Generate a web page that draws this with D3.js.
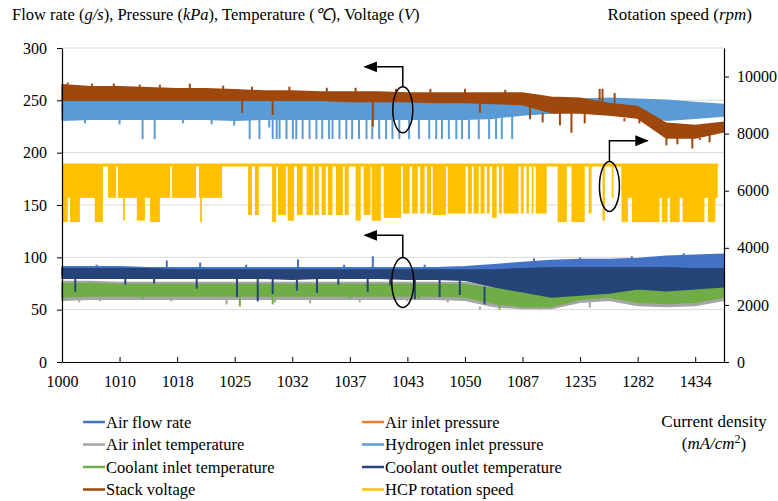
<!DOCTYPE html>
<html>
<head>
<meta charset="utf-8">
<script src="https://cdn.jsdelivr.net/npm/d3@7"></script>
<style>
  body { margin: 0; background: #fff; }
  svg text { font-family: "Liberation Serif", "Times New Roman", serif; fill: #000; }
</style>
</head>
<body>
<div id="chart"></div>
<script>

// x is measured in label intervals: tick i sits under xLabels[i]
var xLabels = ["1000", "1010", "1018", "1025", "1032", "1037", "1043", "1050", "1087", "1235", "1282", "1434"];
var sampleT = d3.range(0, 12, 0.5);   // band samples, every half interval

// left-axis series, upper / lower edge of the noisy trace
var voltHi = [265, 263, 263, 262, 261, 261, 260, 259, 259, 258, 258, 258, 257, 257, 257, 257, 257, 253, 252, 247, 244, 228, 226, 229];
var voltLo = [250, 250, 250, 250, 250, 250, 250, 250, 250, 250, 249, 249, 249, 248, 248, 247, 246, 238, 238, 236, 233, 214, 214, 220];
var h2Hi = [249, 249, 249, 249, 249, 249, 249, 249, 249, 249, 249, 249, 249, 249, 249, 249, 250, 250, 251, 252, 251, 250, 248, 246];
var h2Lo = [231, 232, 232, 232, 232, 232, 231, 232, 232, 232, 232, 232, 232, 232, 232, 233, 236, 238, 239, 240, 238, 231, 233, 235];
var airPHi = [244, 244, 244, 244, 244, 244, 244, 244, 244, 244, 244, 244, 244, 244, 244, 244, 245, 245, 246, 246, 245, 244, 243, 242];
var airPLo = [238, 238, 238, 238, 238, 238, 238, 238, 238, 238, 238, 238, 238, 238, 238, 238, 239, 240, 241, 241, 240, 238, 238, 238];
var flowHi = [91, 91, 91, 90, 90, 90, 90, 90, 90, 90, 90, 90, 90, 90, 91, 93, 95, 97, 98, 98, 99, 101, 102, 103];
var flowLo = [84, 84, 84, 84, 84, 84, 84, 84, 84, 84, 84, 84, 84, 84, 84, 85, 86, 87, 87, 88, 88, 88, 88, 89];
var outHi = [89, 89, 89, 89, 88, 88, 88, 88, 88, 88, 88, 88, 88, 88, 88, 88, 89, 90, 90, 90, 90, 90, 89, 89];
var outLo = [80, 80, 80, 80, 80, 80, 80, 80, 79, 80, 80, 80, 79, 79, 78, 72, 67, 62, 64, 66, 70, 68, 70, 72];
var inHi = [75, 75, 74, 74, 74, 74, 74, 74, 74, 74, 74, 74, 74, 74, 74, 70, 68, 68, 74, 75, 71, 70, 71, 76];
var inLo = [62, 63, 63, 63, 63, 63, 63, 63, 63, 63, 63, 63, 63, 63, 62, 56, 53, 53, 60, 62, 57, 56, 57, 62];
var airTHi = [77, 77, 76, 76, 76, 76, 76, 76, 76, 76, 76, 76, 76, 76, 76, 72, 70, 70, 76, 77, 73, 72, 73, 78];
var airTLo = [59, 60, 60, 60, 60, 60, 60, 60, 60, 60, 60, 60, 60, 60, 59, 53, 51, 51, 57, 59, 54, 53, 54, 59];

// single excursions [x, value]
var voltSpikes = [[0.10, 267], [0.52, 266], [0.90, 266], [1.35, 265], [1.70, 265], [2.22, 266], [2.80, 264], [3.30, 263], [3.95, 263], [4.60, 262],
  [5.10, 262], [5.80, 261], [6.40, 261], [7.00, 261], [7.70, 260], [3.13, 238], [3.66, 236], [5.40, 225], [7.26, 238], [8.13, 232], [8.35, 229],
  [8.65, 226], [8.85, 219], [9.08, 228], [9.34, 261], [9.39, 261], [9.60, 257], [9.77, 230], [10.03, 228], [10.50, 207], [10.69, 208],
  [10.95, 204], [11.08, 212], [11.25, 210]];
var h2Spikes = [[1.40, 213], [1.61, 213], [3.26, 213], [3.43, 213], [3.66, 213], [3.73, 213], [3.78, 213], [3.90, 213], [4.01, 213], [4.07, 213],
  [4.18, 213], [4.30, 213], [4.42, 213], [4.52, 213], [4.64, 213], [4.70, 213], [4.82, 213], [4.94, 213], [5.04, 213], [5.16, 213], [5.29, 213],
  [5.39, 213], [5.51, 213], [5.63, 213], [5.74, 213], [5.86, 213], [6.03, 213], [6.20, 213], [6.38, 213], [6.50, 213], [6.60, 213], [6.72, 213],
  [6.85, 213], [6.95, 213], [7.07, 213], [7.24, 213], [7.42, 213], [7.54, 213], [7.64, 213], [7.82, 213], [2.99, 226], [3.60, 224],
  [0.40, 228], [1.00, 227], [2.10, 228], [2.60, 227]];
var flowSpikes = [[0.60, 93], [1.82, 97], [2.40, 95], [3.20, 93], [4.10, 98], [4.90, 93], [5.40, 101], [6.30, 93], [8.20, 99], [9.00, 100],
  [9.90, 101], [10.80, 104]];
var outSpikes = [[0.23, 67], [2.34, 70], [3.04, 62], [3.40, 58], [3.66, 65], [4.08, 68], [4.43, 66], [5.31, 67], [6.13, 60], [6.56, 62],
  [6.91, 64], [7.34, 55], [1.10, 74], [1.60, 75], [4.80, 74], [5.70, 73]];
var inSpikes = [[3.09, 53], [3.66, 55], [7.60, 50], [1.40, 60], [5.00, 60], [6.20, 60]];
var airTSpikes = [[0.66, 58], [2.86, 55], [4.31, 56], [5.17, 57], [7.26, 50], [8.30, 50], [9.17, 52], [10.21, 54], [0.30, 57], [1.90, 58],
  [3.70, 57], [6.00, 58], [6.70, 57]];

// HCP rotation speed (right axis): top level plus drop blocks [x0, x1, lowest rpm]
var hcpTop = 6900;
var hcpEnd = 11.40;
var hcpDrops = [[0.00, 0.71, 5750], [0.80, 0.94, 5750], [0.97, 1.35, 5750], [1.39, 1.88, 5750], [1.91, 2.33, 5750], [2.38, 2.78, 5750],
  [0.00, 0.10, 4900], [0.14, 0.31, 4900], [0.57, 0.71, 4900], [1.06, 1.09, 4950],
  [1.30, 1.44, 4950], [1.53, 1.70, 4900], [2.40, 2.43, 4900], [3.23, 3.30, 5150], [3.35, 3.42, 5150], [3.65, 3.72, 4900], [3.75, 3.89, 5150],
  [3.92, 4.03, 4950], [4.08, 4.18, 5150], [4.25, 4.36, 5150], [4.39, 4.46, 5150], [4.51, 4.58, 5150], [4.62, 4.70, 5150], [4.76, 4.88, 5150],
  [4.91, 4.98, 5150], [5.10, 5.19, 4950], [5.24, 5.36, 5150], [5.38, 5.54, 4950], [5.59, 5.89, 5050], [5.92, 6.04, 5200], [6.08, 6.18, 5200],
  [6.22, 6.30, 5200], [6.34, 6.41, 5200], [6.44, 6.67, 5150], [6.70, 7.01, 5200], [7.05, 7.12, 5200], [7.15, 7.24, 5200], [7.27, 7.34, 5200],
  [7.38, 7.43, 5200], [7.47, 7.55, 5050], [7.59, 7.64, 5200], [7.67, 7.93, 5200], [7.97, 8.02, 5200], [8.07, 8.11, 5200], [8.16, 8.19, 5200],
  [8.23, 8.42, 5200], [8.61, 8.77, 4900], [8.85, 9.08, 4900], [9.15, 9.20, 5200], [9.39, 9.43, 4950], [9.55, 9.58, 5750], [9.72, 11.39, 5750],
  [9.72, 9.83, 4900], [9.90, 10.38, 4900], [10.42, 10.52, 4900], [10.56, 10.73, 4900], [10.78, 11.16, 4900], [11.22, 11.35, 4900]];

var leftTicks = [0, 50, 100, 150, 200, 250, 300];
var rightTicks = [0, 2000, 4000, 6000, 8000, 10000];

var W = 778, H = 501;
var plot = {left: 62, right: 724, top: 48, bottom: 362};
var serif = "'Liberation Serif', 'Times New Roman', serif";

var svg = d3.select("#chart").append("svg")
    .attr("width", W).attr("height", H)
    .attr("font-family", serif)
    .style("background", "#fff");

var x = d3.scaleLinear().domain([0, 11.5]).range([plot.left, plot.right]);
var yL = d3.scaleLinear().domain([0, 300]).range([plot.bottom, plot.top]);
var yR = d3.scaleLinear().domain([0, 11000]).range([plot.bottom, plot.top]);

// gridlines
svg.append("g").selectAll("line")
  .data(leftTicks.slice(1))
  .join("line")
    .attr("x1", plot.left).attr("x2", plot.right)
    .attr("y1", d => yL(d)).attr("y2", d => yL(d))
    .attr("stroke", "#d9d9d9").attr("stroke-width", 1);

var series = [
  {name: "Air inlet pressure", color: "#ED7D31", hi: airPHi, lo: airPLo, spikes: []},
  {name: "Hydrogen inlet pressure", color: "#5B9BD5", hi: h2Hi, lo: h2Lo, spikes: h2Spikes},
  {name: "Stack voltage", color: "#9E480E", hi: voltHi, lo: voltLo, spikes: voltSpikes},
  {name: "Air inlet temperature", color: "#A5A5A5", hi: airTHi, lo: airTLo, spikes: airTSpikes},
  {name: "Coolant inlet temperature", color: "#70AD47", hi: inHi, lo: inLo, spikes: inSpikes},
  {name: "Air flow rate", color: "#4472C4", hi: flowHi, lo: flowLo, spikes: flowSpikes},
  {name: "Coolant outlet temperature", color: "#264478", hi: outHi, lo: outLo, spikes: outSpikes}
];

// HCP rotation speed first, it sits in its own band
var hcp = svg.append("g");
hcp.selectAll("rect")
  .data(hcpDrops)
  .join("rect")
    .attr("x", d => x(d[0]))
    .attr("width", d => Math.max(1.2, x(d[1]) - x(d[0])))
    .attr("y", yR(hcpTop))
    .attr("height", d => yR(d[2]) - yR(hcpTop))
    .attr("fill", "#FFC000");
hcp.append("line")
    .attr("x1", x(0)).attr("x2", x(hcpEnd))
    .attr("y1", yR(hcpTop)).attr("y2", yR(hcpTop))
    .attr("stroke", "#FFC000").attr("stroke-width", 3);

var area = d3.area()
    .x((d, i) => x(sampleT[i]))
    .curve(d3.curveLinear);

series.forEach(function(s) {
  var g = svg.append("g");
  var band = sampleT.map((t, i) => i);
  g.append("path")
    .datum(band)
    .attr("d", area.y0(i => yL(s.lo[i])).y1(i => yL(s.hi[i])))
    .attr("fill", s.color)
    .attr("stroke", s.color)
    .attr("stroke-width", 1.5)
    .attr("stroke-linejoin", "round");
  g.selectAll("line")
    .data(s.spikes)
    .join("line")
      .attr("x1", d => x(d[0])).attr("x2", d => x(d[0]))
      .attr("y1", function(d) {
        var i = Math.min(23, Math.round(d[0] * 2));
        return d[1] < s.lo[i] ? yL(s.lo[i]) : yL(s.hi[i]);
      })
      .attr("y2", d => yL(d[1]))
      .attr("stroke", s.color)
      .attr("stroke-width", 2);
});

// axes
var fontSize = "16px";

var axL = svg.append("g")
    .attr("transform", "translate(" + plot.left + ",0)")
    .call(d3.axisLeft(yL).tickValues(leftTicks).tickSize(5).tickPadding(10).tickSizeOuter(0));
var axR = svg.append("g")
    .attr("transform", "translate(" + plot.right + ",0)")
    .call(d3.axisRight(yR).tickValues(rightTicks).tickFormat(d3.format("d")).tickSize(5).tickPadding(8).tickSizeOuter(0));
var axB = svg.append("g")
    .attr("transform", "translate(0," + plot.bottom + ")")
    .call(d3.axisBottom(x).tickValues(d3.range(12)).tickFormat(i => xLabels[i]).tickSize(-5).tickSizeOuter(0));

[axL, axR, axB].forEach(function(a) {
  a.attr("font-family", serif).attr("font-size", fontSize);
  a.select(".domain").attr("stroke", "#000").attr("stroke-width", 1.2);
  a.selectAll(".tick line").attr("stroke", "#000");
  a.selectAll("text").attr("fill", "#000");
});
axB.selectAll("text").attr("y", 14);

// annotation arrows and ellipses
svg.append("defs").append("marker")
    .attr("id", "arrow")
    .attr("viewBox", "0 0 10 10")
    .attr("refX", 9).attr("refY", 5)
    .attr("markerWidth", 9).attr("markerHeight", 9)
    .attr("orient", "auto")
  .append("path")
    .attr("d", "M0,1 L10,5 L0,9 Z")
    .attr("fill", "#000");

var notes = [
  {cx: 5.92, cy: yL(241), rx: 10, ry: 23, turnY: yL(282), toX: 5.26},
  {cx: 5.92, cy: yL(76), rx: 11, ry: 25, turnY: yL(121), toX: 5.26},
  {cx: 9.51, cy: yR(6150), rx: 10, ry: 25, turnY: yR(7750), toX: 10.17}
];
var ann = svg.append("g");
notes.forEach(function(n) {
  ann.append("ellipse")
    .attr("cx", x(n.cx)).attr("cy", n.cy)
    .attr("rx", n.rx).attr("ry", n.ry)
    .attr("fill", "none").attr("stroke", "#000").attr("stroke-width", 1.5);
  ann.append("path")
    .attr("d", "M" + x(n.cx) + "," + (n.cy - n.ry) + " V" + n.turnY + " H" + x(n.toX))
    .attr("fill", "none").attr("stroke", "#000").attr("stroke-width", 1.5)
    .attr("marker-end", "url(#arrow)");
});

// axis titles
var t1 = svg.append("text").attr("x", 12).attr("y", 20).attr("font-size", "16.5px");
t1.append("tspan").text("Flow rate (");
t1.append("tspan").attr("font-style", "italic").text("g/s");
t1.append("tspan").text("), Pressure (");
t1.append("tspan").attr("font-style", "italic").text("kPa");
t1.append("tspan").text("), Temperature (");
t1.append("tspan").attr("font-style", "italic").text("℃");
t1.append("tspan").text("), Voltage (");
t1.append("tspan").attr("font-style", "italic").text("V");
t1.append("tspan").text(")");

var t2 = svg.append("text").attr("x", 752).attr("y", 20).attr("text-anchor", "end").attr("font-size", "17px");
t2.append("tspan").text("Rotation speed (");
t2.append("tspan").attr("font-style", "italic").text("rpm");
t2.append("tspan").text(")");

svg.append("text").attr("x", 714).attr("y", 427).attr("text-anchor", "middle")
    .attr("font-size", "17px").text("Current density");
var t3 = svg.append("text").attr("x", 714).attr("y", 449).attr("text-anchor", "middle").attr("font-size", "17px");
t3.append("tspan").text("(");
t3.append("tspan").attr("font-style", "italic").text("mA/cm");
t3.append("tspan").attr("dy", -6).attr("font-size", "12px").text("2");
t3.append("tspan").attr("dy", 6).text(")");

// legend
var legendItems = [
  {name: "Air flow rate", color: "#4472C4"},
  {name: "Air inlet pressure", color: "#ED7D31"},
  {name: "Air inlet temperature", color: "#A5A5A5"},
  {name: "Hydrogen inlet pressure", color: "#5B9BD5"},
  {name: "Coolant inlet temperature", color: "#70AD47"},
  {name: "Coolant outlet temperature", color: "#264478"},
  {name: "Stack voltage", color: "#9E480E"},
  {name: "HCP rotation speed", color: "#FFC000"}
];
var leg = svg.append("g").selectAll("g")
  .data(legendItems)
  .join("g")
    .attr("transform", (d, i) => "translate(" + (i % 2 ? 362 : 83) + "," + (422 + Math.floor(i / 2) * 22.5) + ")");
leg.append("line")
    .attr("x1", 0).attr("x2", 22)
    .attr("stroke", d => d.color).attr("stroke-width", 2.5);
leg.append("text")
    .attr("x", 23).attr("y", 5.5)
    .attr("font-size", "16.5px")
    .text(d => d.name);

</script>
</body>
</html>
